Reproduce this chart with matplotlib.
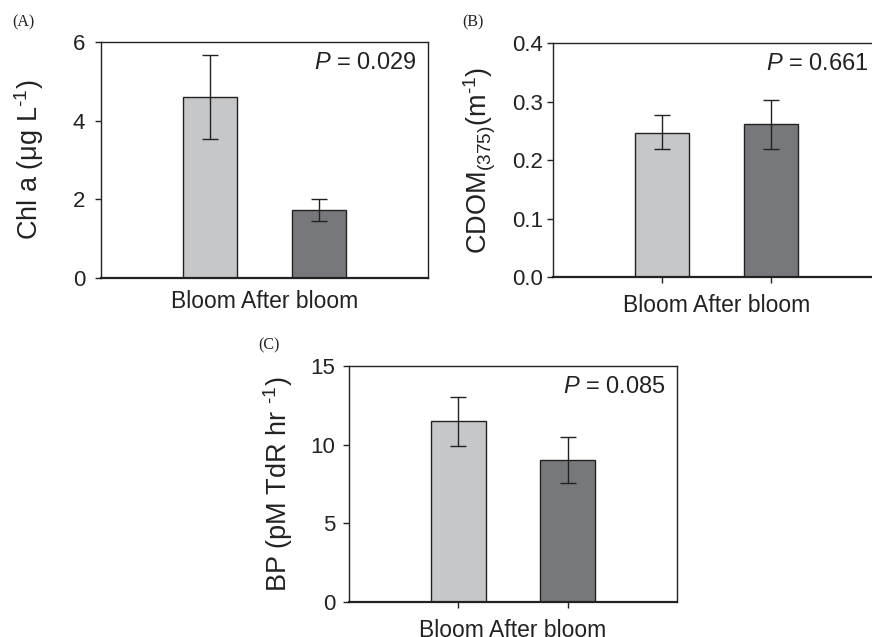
import matplotlib
matplotlib.use("Agg")
import matplotlib.pyplot as plt

plt.rcParams['font.family'] = ['Liberation Sans', 'DejaVu Sans']
plt.rcParams['mathtext.fontset'] = 'custom'
plt.rcParams['mathtext.rm'] = 'Liberation Sans'
plt.rcParams['mathtext.it'] = 'Liberation Sans:italic'
plt.rcParams['mathtext.bf'] = 'Liberation Sans:bold'

categories = ["Bloom", "After bloom"]
bar_colors = ["#c6c7c9", "#77787b"]

chl_vals = [4.60, 1.73]
chl_lo = [3.53, 1.45]
chl_hi = [5.67, 2.00]

cdom_vals = [0.247, 0.261]
cdom_lo = [0.218, 0.219]
cdom_hi = [0.277, 0.303]

bp_vals = [11.49, 9.05]
bp_lo = [9.94, 7.59]
bp_hi = [13.03, 10.49]

HY = "\u2010"
panels = [
    dict(vals=chl_vals, lo=chl_lo, hi=chl_hi, ylim=(0, 6), yticks=[0, 2, 4, 6],
         ylabels=["0", "2", "4", "6"], ylabel="Chl a (μg L$^{" + HY + "1}$)", p="0.029",
         tag="(A)", pos=[101, 42, 327, 236], ylx=29, tagxy=(12, 22), xticks=False, pad=7.5),
    dict(vals=cdom_vals, lo=cdom_lo, hi=cdom_hi, ylim=(0, 0.4), yticks=[0, 0.1, 0.2, 0.3, 0.4],
         ylabels=["0.0", "0.1", "0.2", "0.3", "0.4"], ylabel="CDOM$_{(375)}$(m$^{" + HY + "1}$)", p="0.661",
         tag="(B)", pos=[553, 43, 327, 234], ylx=480, tagxy=(462, 22), xticks=True, pad=3),
    dict(vals=bp_vals, lo=bp_lo, hi=bp_hi, ylim=(0, 15), yticks=[0, 5, 10, 15],
         ylabels=["0", "5", "10", "15"], ylabel="BP (pM TdR hr $^{" + HY + "1}$)", p="0.085",
         tag="(C)", pos=[349, 366, 328, 236], ylx=278, tagxy=(258, 345), xticks=True, pad=6),
]

W, H = 872, 637
fig = plt.figure(figsize=(W / 100, H / 100), dpi=100)

for pn in panels:
    l, t, w, h = pn["pos"]
    ax = fig.add_axes([l / W, 1 - (t + h) / H, w / W, h / H])
    x = list(range(len(categories)))
    yerr = [[v - lo for v, lo in zip(pn["vals"], pn["lo"])],
            [hi - v for v, hi in zip(pn["vals"], pn["hi"])]]
    ax.bar(x, pn["vals"], width=0.5, color=bar_colors, edgecolor="#222222", linewidth=1.0, zorder=2)
    ax.errorbar(x, pn["vals"], yerr=yerr, fmt="none", ecolor="#222222", elinewidth=1.0,
                capsize=6, capthick=1.0, zorder=3)
    ax.set_xlim(-1, 2)
    ax.set_ylim(*pn["ylim"])
    ax.set_yticks(pn["yticks"])
    ax.set_yticklabels(pn["ylabels"], fontsize=16, color="#222222")
    if pn["xticks"]:
        ax.set_xticks(x)
        ax.set_xticklabels(["", ""])
    else:
        ax.set_xticks([])
    ax.tick_params(axis="both", direction="out", length=4, width=1.0, color="#222222")
    ax.tick_params(axis="y", pad=pn["pad"])
    for s in ["top", "left", "right"]:
        ax.spines[s].set_linewidth(1.0)
        ax.spines[s].set_color("#222222")
    ax.spines["bottom"].set_linewidth(1.6)
    ax.spines["bottom"].set_color("#222222")
    ax.set_xlabel("Bloom After bloom", fontsize=16.5, color="#222222", labelpad=5 if pn["xticks"] else 9)
    ax.text(0.966, 0.91, r"$\it{P}$ = " + pn["p"], transform=ax.transAxes, ha="right", va="center",
            fontsize=17, color="#222222")
    fig.text(pn["ylx"] / W, 1 - (t + h / 2) / H, pn["ylabel"], rotation=90, ha="center", va="center",
             fontsize=19.5, color="#222222")
    fig.text(pn["tagxy"][0] / W, 1 - pn["tagxy"][1] / H, pn["tag"], ha="left", va="center",
             fontsize=11.5, family="Liberation Serif", color="#222222")

fig.savefig("out.png", dpi=100)
